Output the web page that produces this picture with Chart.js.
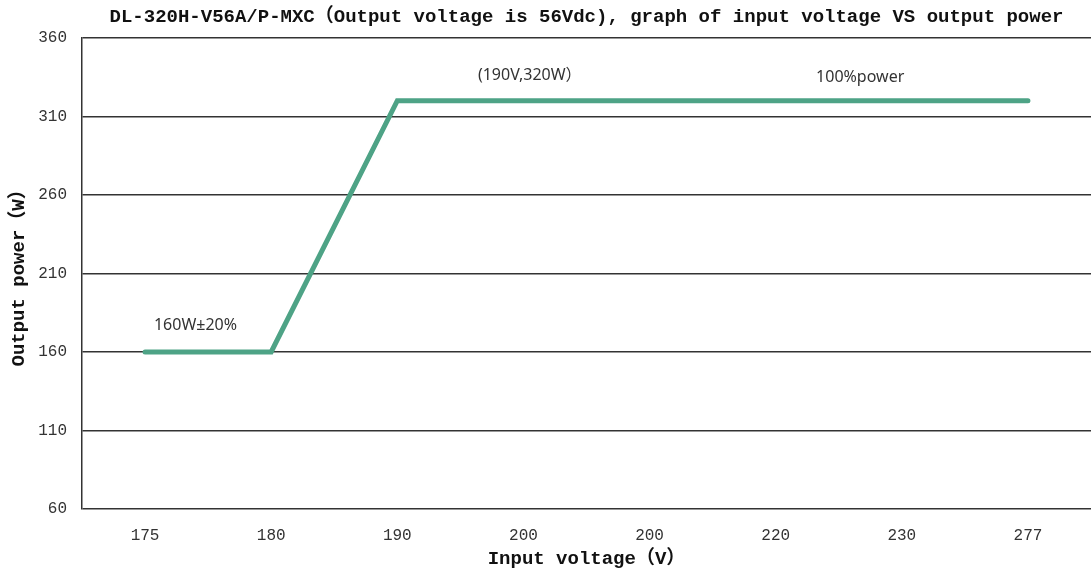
<!DOCTYPE html>
<html>
<head>
<meta charset="utf-8">
<script src="https://cdn.jsdelivr.net/npm/chart.js@4/dist/chart.umd.min.js"></script>
<style>
  html, body { margin: 0; padding: 0; background: #ffffff; }
  #wrap { width: 1091px; height: 574px; position: relative; }
</style>
</head>
<body>
<div id="wrap"><canvas id="c" width="1091" height="574"></canvas></div>
<script>
// ---- data ----
const categories = ['175', '180', '190', '200', '200', '220', '230', '277'];
const outputPower = [160, 160, 320, 320, 320, 320, 320, 320];
const yTicks = [60, 110, 160, 210, 260, 310, 360];
const noteTexts = ['(190V,320W）', '100%power', '160W±20%'];
const noteXIndex = [3.05, 5.67, 0.40];
const noteYValue = [336, 335, 177];

const chartTitle = 'DL-320H-V56A/P-MXC（Output voltage is 56Vdc), graph of input voltage VS output power';
const xTitle = 'Input voltage（V）';
const yTitle = 'Output power（W）';

const monoFont = "'Liberation Mono', 'Noto Sans CJK SC', monospace";

const notesPlugin = {
  id: 'notes',
  afterDatasetsDraw(chart) {
    const ctx = chart.ctx;
    const xs = chart.scales.x, ys = chart.scales.y;
    ctx.save();
    ctx.font = "16px 'Noto Sans', 'Noto Sans CJK SC', sans-serif";
    ctx.fillStyle = '#333333';
    ctx.textAlign = 'center';
    ctx.textBaseline = 'middle';
    noteTexts.forEach((t, i) => {
      ctx.fillText(t, xs.getPixelForValue(noteXIndex[i]), ys.getPixelForValue(noteYValue[i]));
    });
    ctx.restore();
  }
};

new Chart(document.getElementById('c'), {
  type: 'line',
  data: {
    labels: categories,
    datasets: [{
      data: outputPower,
      borderColor: '#4ea386',
      borderWidth: 5,
      borderCapStyle: 'round',
      borderJoinStyle: 'miter',
      tension: 0,
      pointRadius: 0,
      fill: false
    }]
  },
  options: {
    responsive: false,
    animation: false,
    layout: { padding: { left: 0, right: 0, top: 0, bottom: 0 } },
    plugins: {
      legend: { display: false },
      tooltip: { enabled: false },
      title: {
        display: true,
        fullSize: false,
        text: chartTitle,
        color: '#111111',
        font: { family: monoFont, size: 19, weight: 'bold', lineHeight: 1.2 },
        padding: { top: 6, bottom: 9 }
      }
    },
    scales: {
      x: {
        type: 'category',
        offset: true,
        grid: { display: false, drawTicks: false },
        border: { display: false },
        ticks: {
          color: '#333333',
          font: { family: monoFont, size: 16 },
          padding: 17,
          maxRotation: 0,
          autoSkip: false
        },
        title: {
          display: true,
          text: xTitle,
          color: '#111111',
          font: { family: monoFont, size: 19, weight: 'bold', lineHeight: 1.2 },
          padding: { top: 0, bottom: 3 }
        },
        afterFit(scale) { scale.height = 65; }
      },
      y: {
        min: 60,
        max: 360,
        afterBuildTicks(scale) { scale.ticks = yTicks.map(v => ({ value: v })); },
        grid: { color: '#333333', lineWidth: 1.5, drawTicks: false },
        border: { display: true, color: '#333333', width: 1.5 },
        ticks: {
          color: '#333333',
          font: { family: monoFont, size: 16 },
          padding: 15
        },
        title: {
          display: true,
          text: yTitle,
          color: '#111111',
          font: { family: monoFont, size: 19, weight: 'bold', lineHeight: 1.2 },
          padding: { top: 8, bottom: 0 }
        },
        afterFit(scale) { scale.width = 82; }
      }
    }
  },
  plugins: [notesPlugin]
});
</script>
</body>
</html>
